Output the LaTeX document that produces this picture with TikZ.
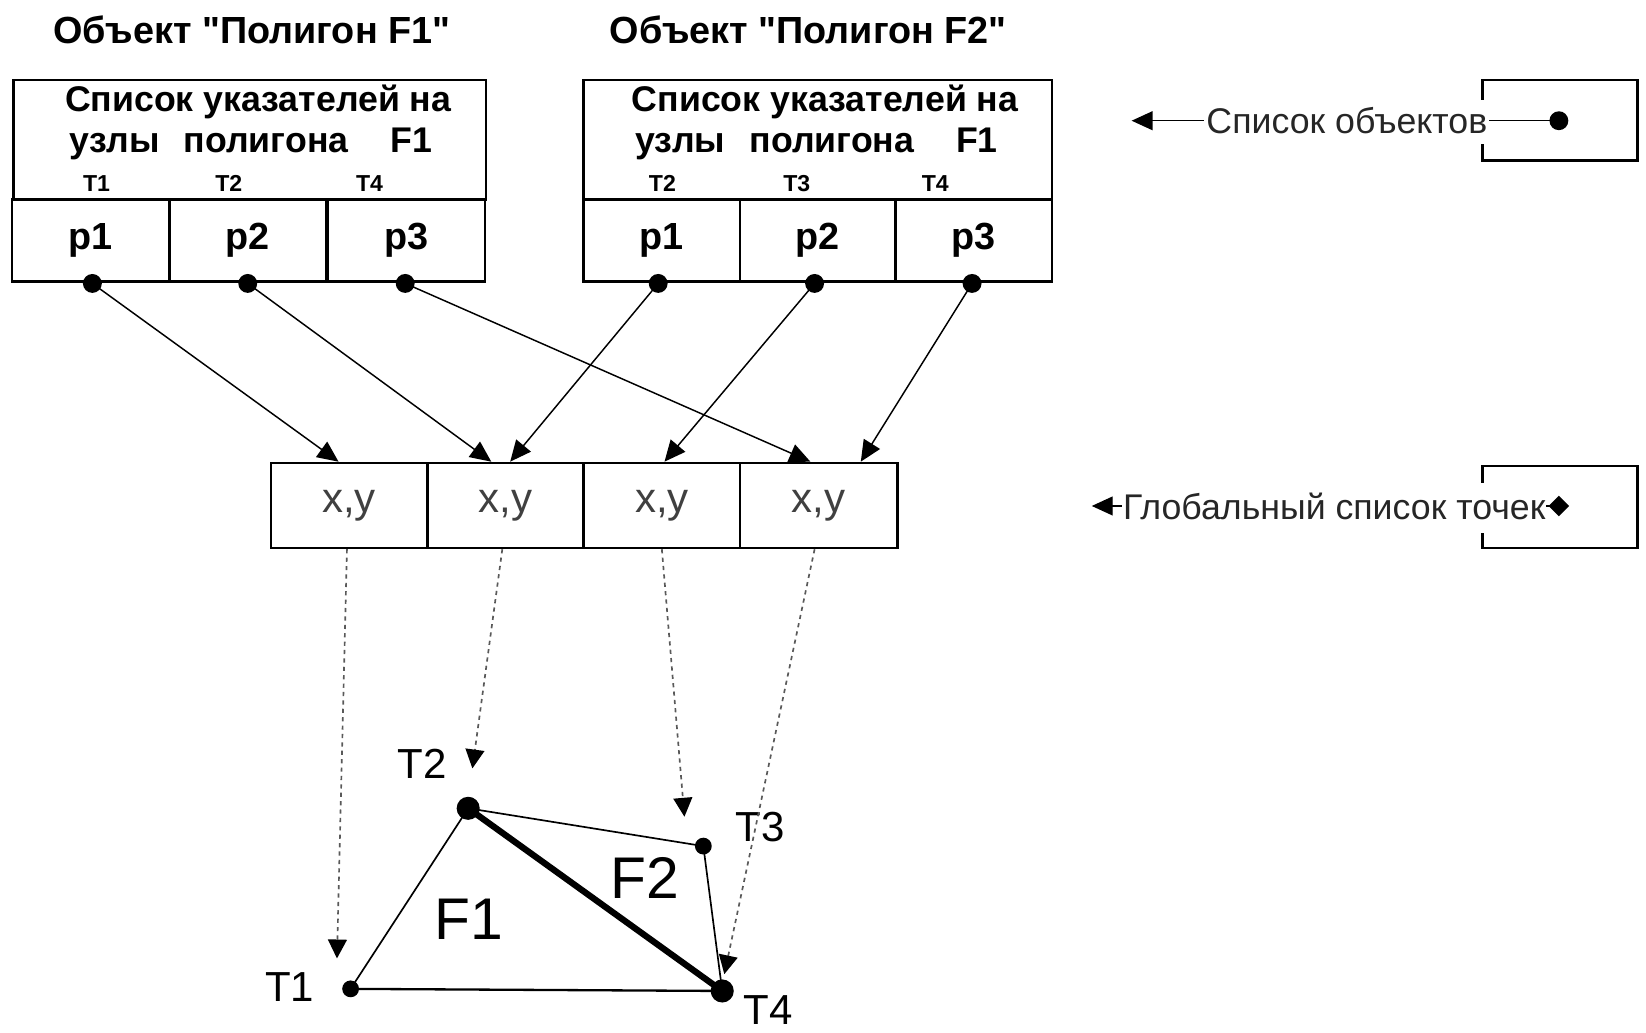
\documentclass[tikz,border=0pt]{standalone}
\usepackage{fontspec}
\setmainfont{Liberation Sans}
\newfontfamily\qfont{Liberation Sans}
\usetikzlibrary{arrows.meta,calc,shapes.geometric}
\newcommand{\sq}{{\qfont"}}
\begin{document}
\begin{tikzpicture}[x=0.5pt,y=-0.5pt,
  boxline/.style={draw,line width=1.2pt,inner sep=0pt},
  cellA/.style={boxline,minimum width=75pt,minimum height=39pt,font=\fontsize{18}{20}\selectfont\bfseries},
  cellG/.style={boxline,minimum width=74.5pt,minimum height=40.5pt,font=\fontsize{20}{22}\selectfont,text=black!75},
  hdr/.style={boxline,minimum width=225pt,minimum height=57pt},
  hdrtxt/.style={inner sep=0pt,font=\fontsize{17}{20}\selectfont\bfseries},
  tlab/.style={inner sep=0pt,font=\fontsize{11}{12}\selectfont\bfseries},
  title/.style={inner sep=0pt,font=\fontsize{18}{20}\selectfont\bfseries},
  dot/.style={circle,fill=black,inner sep=0pt,minimum size=9pt},
  vtx/.style={circle,fill=black,inner sep=0pt,minimum size=#1},
  ptr/.style={line width=0.7pt,-{Triangle[length=10pt,width=9pt]}},
  dref/.style={line width=0.8pt,black!65,dash pattern=on 2pt off 2pt,-{Triangle[length=9pt,width=9pt,color=black]}},
  legtxt/.style={inner sep=1pt,fill=white,font=\fontsize{17}{20}\selectfont,text=black!85},
  ptlab/.style={inner sep=0pt,font=\fontsize{20}{22}\selectfont},
  flab/.style={inner sep=0pt,font=\fontsize{28}{30}\selectfont}
]
\useasboundingbox (0,0) rectangle (1568,984);

% titles
\node[title] (tF1) at (240,28) {Объект \sq Полигон F1\sq};
\node[title] (tF2) at (770,28) {Объект \sq Полигон F2\sq};

% F1 object
\node[hdr] (f1h) at (238,133) {};
\node[cellA] (f1c1) at (86.5,229) {p1};
\node[cellA] (f1c2) at (236,229) {p2};
\node[cellA] (f1c3) at (387,229) {p3};
\node[hdrtxt] (f1l1) at (246,97) {Список указателей на};
\node[hdrtxt] (f1l2) at (239,137) {узлы\hspace{11.5pt}полигона\hspace{20pt}F1};
\node[tlab] (f1t1) at (92,175) {T1};
\node[tlab] (f1t2) at (218,175) {T2};
\node[tlab] (f1t3) at (352,175) {T4};

% F2 object
\node[hdr,minimum width=223pt] (f2h) at (779,133) {};
\node[cellA,minimum width=74.5pt] (f2c1) at (630.5,229) {p1};
\node[cellA,minimum width=74pt] (f2c2) at (779,229) {p2};
\node[cellA,minimum width=74.5pt] (f2c3) at (927.5,229) {p3};
\node[hdrtxt] (f2l1) at (786,97) {Список указателей на};
\node[hdrtxt] (f2l2) at (778,137) {узлы\hspace{11.5pt}полигона\hspace{20pt}F1};
\node[tlab] (f2t1) at (631,175) {T2};
\node[tlab] (f2t2) at (759,175) {T3};
\node[tlab] (f2t3) at (891,175) {T4};

% pointer dots
\node[dot] (f1d1) at (88,270) {};
\node[dot] (f1d2) at (236,270) {};
\node[dot] (f1d3) at (386,270) {};
\node[dot] (f2d1) at (627,270) {};
\node[dot] (f2d2) at (776,270) {};
\node[dot] (f2d3) at (926,270) {};

% global point list
\node[cellG] (g1) at (332.5,481.5) {x,y};
\node[cellG] (g2) at (481.5,481.5) {x,y};
\node[cellG] (g3) at (630.5,481.5) {x,y};
\node[cellG,minimum width=75pt] (g4) at (780,481.5) {x,y};

% pointer arrows
\draw[ptr] (f1d1.center) -- ($(g1.north)+(-10,0)$);
\draw[ptr] (f1d2.center) -- ($(g2.north)+(-13.5,0)$);
\draw[ptr] (f1d3.center) -- ($(g4.north)+(-8,0)$);
\draw[ptr] (f2d1.center) -- ($(g2.north)+(4.5,0)$);
\draw[ptr] (f2d2.center) -- ($(g3.north)+(2.5,0)$);
\draw[ptr] (f2d3.center) -- ($(g4.north)+(40,0)$);

% polygon vertices
\node[vtx=8pt] (v1) at (334,942) {};
\node[vtx=11pt] (v2) at (446,770) {};
\node[vtx=8pt] (v3) at (670,806) {};
\node[vtx=11pt] (v4) at (688,944) {};
\node[ptlab] (lv1) at (276,940) {T1};
\node[ptlab] (lv2) at (402,728) {T2};
\node[ptlab] (lv3) at (724,788) {T3};
\node[ptlab] (lv4) at (732,962) {T4};
\node[flab] (lF1) at (447,876) {F1};
\node[flab] (lF2) at (614,836) {F2};

\draw[line width=0.8pt] (v1.center) -- (v2.center);
\draw[line width=0.8pt] (v2.center) -- (v3.center);
\draw[line width=0.8pt] (v3.center) -- (v4.center);
\draw[line width=1.1pt] (v1.center) -- (v4.center);
\draw[line width=3pt] (v2.center) -- (v4.center);

% dotted references from global list to vertices
\coordinate (a1) at (321,913);
\coordinate (a2) at (450,732);
\coordinate (a3) at (652,778);
\coordinate (a4) at (690,928);
\draw[dref] ($(g1.south)+(-2,0)$) -- (a1);
\draw[dref] ($(g2.south)+(-3,0)$) -- (a2);
\draw[dref] ($(g3.south)+(0,0)$) -- (a3);
\draw[dref] ($(g4.south)+(-4,0)$) -- (a4);

% legend: list of objects
\draw[line width=1.2pt] (1412,95) -- (1412,76) -- (1560,76) -- (1560,153) -- (1412,153) -- (1412,137);
\node[dot] (lod) at (1485,115) {};
\coordinate (lot) at (1078,115);
\draw[ptr] (lod.center) -- (lot);
\node[legtxt] (lotx) at (1283,115) {Список объектов};

% legend: global list of points
\draw[line width=1.2pt] (1412,460) -- (1412,444) -- (1560,444) -- (1560,522) -- (1412,522) -- (1412,508);
\node[diamond,fill=black,inner sep=0pt,minimum size=10pt] (lgd) at (1485,482) {};
\coordinate (lgt) at (1040,482);
\draw[ptr] (lgd.center) -- (lgt);
\node[legtxt,inner sep=0.5pt] (lgtx) at (1271,482) {Глобальный список точек};
\end{tikzpicture}
\end{document}
